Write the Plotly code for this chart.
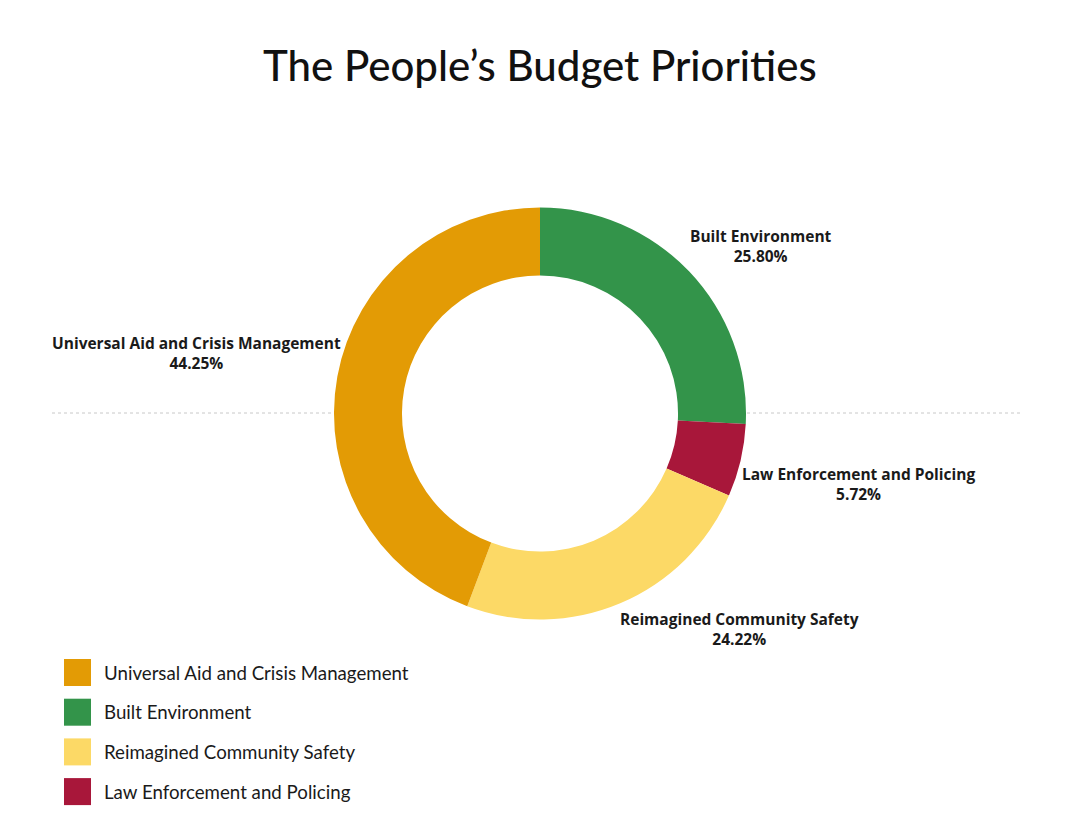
import plotly.graph_objects as go

# Data (drawing order, clockwise from 12 o'clock)
categories = ["Built Environment", "Law Enforcement and Policing",
              "Reimagined Community Safety", "Universal Aid and Crisis Management"]
shares = [25.80, 5.72, 24.22, 44.25]
colors = ["#33944A", "#A8173A", "#FCD966", "#E39B05"]

# Legend order
legend_order = ["Universal Aid and Crisis Management", "Built Environment",
                "Reimagined Community Safety", "Law Enforcement and Policing"]

title_text = "The People’s Budget Priorities"

W, H = 1080, 835

fig = go.Figure()
fig.add_trace(go.Pie(
    labels=categories, values=shares,
    marker=dict(colors=colors, line=dict(width=0)),
    hole=0.67, sort=False, direction="clockwise", rotation=0,
    textinfo="none", hoverinfo="label+percent", showlegend=False,
    domain=dict(x=[334 / W, 746 / W], y=[1 - 620 / H, 1 - 207 / H]),
))

# Label positions (paper px, centre of text block) - layout only
label_pos = {
    "Universal Aid and Crisis Management": (196, 353),
    "Built Environment": (761, 246),
    "Law Enforcement and Policing": (858, 484),
    "Reimagined Community Safety": (739, 629),
}
annotations = []
for cat, val in zip(categories, shares):
    px, py = label_pos[cat]
    annotations.append(dict(
        x=px / W, y=1 - py / H, xref="paper", yref="paper",
        text=f"<b>{cat}</b><br><b>{val:.2f}%</b>", showarrow=False,
        xanchor="center", yanchor="middle", align="center",
        font=dict(family="Open Sans", size=15.5, color="#1a1a1a"),
    ))

# Title
annotations.append(dict(
    x=0.5, y=1 - 65 / H, xref="paper", yref="paper", text=title_text,
    showarrow=False, xanchor="center", yanchor="middle",
    font=dict(family="Lato", size=42, color="#111111", weight=500),
))

shapes = []
# Dotted reference line (split by the ring)
for x0, x1 in [(52, 333), (747, 1020)]:
    shapes.append(dict(type="line", xref="paper", yref="paper",
                       x0=x0 / W, x1=x1 / W, y0=1 - 413 / H, y1=1 - 413 / H,
                       line=dict(color="#c8c8c8", width=1, dash="dot"), layer="below"))

# Custom legend
color_of = dict(zip(categories, colors))
for i, cat in enumerate(legend_order):
    top = 659 + i * 39.7
    shapes.append(dict(type="rect", xref="paper", yref="paper",
                       x0=64 / W, x1=91 / W, y0=1 - (top + 27) / H, y1=1 - top / H,
                       fillcolor=color_of[cat], line=dict(width=0)))
    annotations.append(dict(
        x=102 / W, y=1 - (top + 13.5) / H, xref="paper", yref="paper",
        text=cat, showarrow=False, xanchor="left", yanchor="middle",
        font=dict(family="Lato", size=18.7, color="#1a1a1a"),
    ))

fig.update_layout(
    width=W, height=H, margin=dict(l=0, r=0, t=0, b=0),
    paper_bgcolor="white", plot_bgcolor="white",
    annotations=annotations, shapes=shapes,
)

fig.write_html("out.html")
